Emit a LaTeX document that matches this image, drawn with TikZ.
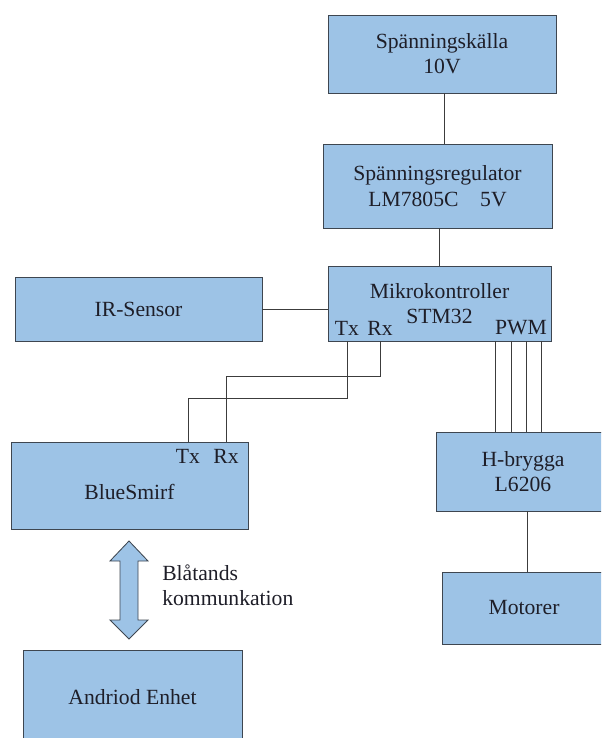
\documentclass[tikz,border=0pt]{standalone}
\usepackage{fontspec}
\setmainfont{Liberation Serif}
\newfontfamily\diagfont{Liberation Serif}
\usepackage{tikz}
\usetikzlibrary{positioning}
\definecolor{mfill}{RGB}{157, 195, 230}
\definecolor{mline}{RGB}{62, 70, 80}
\definecolor{mwire}{RGB}{60, 60, 60}
\definecolor{mtext}{RGB}{30, 30, 40}

\tikzset{
  block/.style={draw=mline, fill=mfill, line width=0.6pt, inner sep=0pt,
    align=center, text=mtext, font=\diagfont\fontsize{15.4}{18}\selectfont},
  pin/.style={inner sep=0pt, text=mtext, font=\diagfont\fontsize{15.4}{18}\selectfont},
  wire/.style={draw=mwire, line width=0.6pt}
}

\begin{document}
\begin{tikzpicture}[x=0.25mm, y=-0.25mm]
      \useasboundingbox (0, 0) rectangle (601, 738);
      \clip (0, 0) rectangle (601, 738);
      % power chain
      \node [block, minimum width=57mm, minimum height=19.5mm] (kalla) at (442, 54) {Spänningskälla\\10V};
      \node [block, minimum width=57.25mm, minimum height=21mm] (reg) at (437.5, 186) {Spänningsregulator\\LM7805C\quad 5V};
      \node [block, minimum width=55.75mm, minimum height=18.75mm] (mikro) at (439.5, 303.5) {Mikrokontroller\\STM32};
      \node [pin] (mtx) at (347, 328) {Tx};
      \node [pin] (mrx) at (380, 328) {Rx};
      \node [pin] (pwm) at (521, 328) {PWM};
      % left side
      \node [block, minimum width=61.75mm, minimum height=16mm] (ir) at (138.5, 309) {IR-Sensor};
      \node [block, minimum width=59.25mm, minimum height=21.75mm] (blue) at (129.5, 485.5) {\\[2pt]BlueSmirf};
      \node [pin] (btx) at (188, 456) {Tx};
      \node [pin] (brx) at (226, 456) {Rx};
      \node [block, minimum width=54.75mm, minimum height=23.75mm] (andr) at (132.5, 697.5) {Andriod Enhet};
      % right side
      \node [block, minimum width=43.5mm, minimum height=19.75mm] (hb) at (523, 471.5) {H-brygga\\L6206};
      \node [block, minimum width=41mm, minimum height=18mm] (mot) at (524, 608) {Motorer};
      \node [pin, anchor=west, align=left] (bt) at (162, 585.5) {Blåtands\\kommunkation};

      \draw [wire] (444, 0 |- kalla.south) -- (444, 0 |- reg.north);
      \draw [wire] (439, 0 |- reg.south) -- (439, 0 |- mikro.north);
      \draw [wire] (ir.east) -- (ir.east -| mikro.west);
      \draw [wire] (mtx.center |- mikro.south) -- ++(0, 57) -| (btx.center |- blue.north);
      \draw [wire] (mrx.center |- mikro.south) -- ++(0, 35) -| (brx.center |- blue.north);
      \foreach \x in {495, 511, 526, 541}
        \draw [wire] (\x, 0 |- mikro.south) -- (\x, 0 |- hb.north);
      \draw [wire] (527, 0 |- hb.south) -- (527, 0 |- mot.north);
      % bluetooth link
      \draw [draw=mline, fill=mfill, line width=0.6pt] (129, 541) -- (148, 561) -- (138, 561) -- (138, 620)
        -- (148, 620) -- (129, 639) -- (110, 620) -- (120, 620) -- (120, 561) -- (110, 561) -- cycle;
    \end{tikzpicture}
\end{document}
